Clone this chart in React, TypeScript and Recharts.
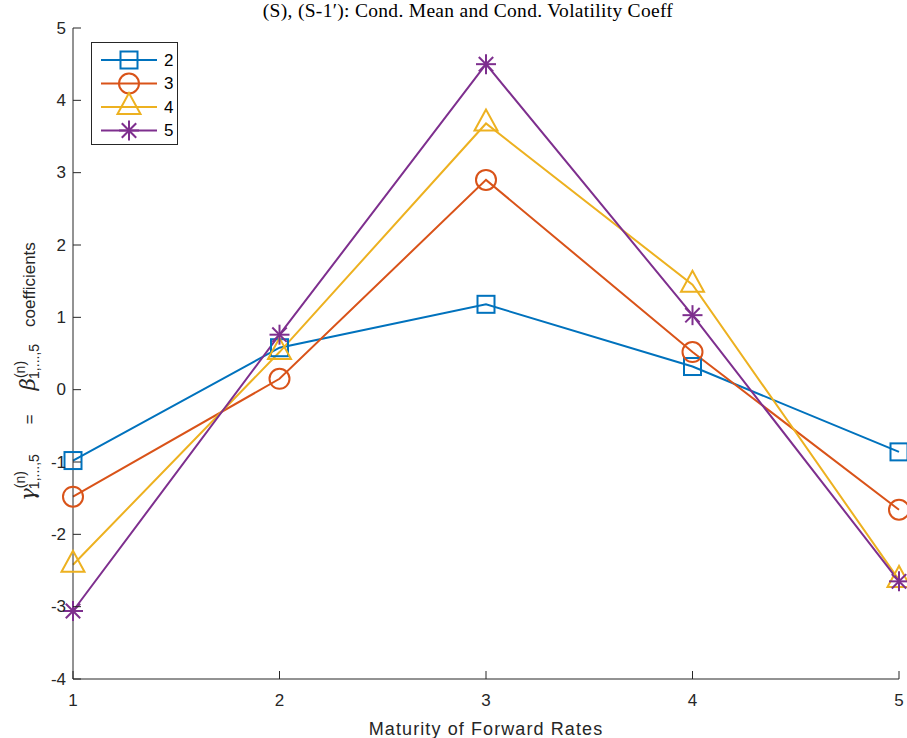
import React from 'react';
import { LineChart, Line, XAxis, YAxis } from 'recharts';

const maturities = [1, 2, 3, 4, 5];
const seriesNames = ['2', '3', '4', '5'];
const series2 = [-0.98, 0.58, 1.18, 0.32, -0.86];
const series3 = [-1.48, 0.15, 2.9, 0.52, -1.66];
const series4 = [-2.42, 0.52, 3.68, 1.45, -2.63];
const series5 = [-3.06, 0.76, 4.5, 1.03, -2.65];
const xTicks = [1, 2, 3, 4, 5];
const yTicks = [-4, -3, -2, -1, 0, 1, 2, 3, 4, 5];

const colors = ['#0072BD', '#D95319', '#EDB120', '#7E2F8E'];
const shapes = ['square', 'circle', 'triangle', 'star'];
const AXIS = '#262626';
const SANS = 'Liberation Sans, Arial, sans-serif';

const data = maturities.map((m, i) => ({
  x: m,
  s2: series2[i],
  s3: series3[i],
  s4: series4[i],
  s5: series5[i],
}));

const Marker = ({ cx, cy, shape, color }: any) => {
  if (cx == null || cy == null) return null;
  const common = { fill: 'none', stroke: color, strokeWidth: 2 };
  if (shape === 'square') {
    return <rect x={cx - 8.5} y={cy - 8.5} width={17} height={17} {...common} />;
  }
  if (shape === 'circle') {
    return <circle cx={cx} cy={cy} r={10} {...common} />;
  }
  if (shape === 'triangle') {
    const pts = `${cx},${cy - 14} ${cx - 11.5},${cy + 7} ${cx + 11.5},${cy + 7}`;
    return <polygon points={pts} {...common} strokeLinejoin="miter" />;
  }
  // asterisk
  const r = 10;
  const d = r * 0.72;
  return (
    <g stroke={color} strokeWidth={2}>
      <line x1={cx - r} y1={cy} x2={cx + r} y2={cy} />
      <line x1={cx} y1={cy - r} x2={cx} y2={cy + r} />
      <line x1={cx - d} y1={cy - d} x2={cx + d} y2={cy + d} />
      <line x1={cx - d} y1={cy + d} x2={cx + d} y2={cy - d} />
    </g>
  );
};

const LeftTick = ({ x, y, payload }: any) => (
  <g>
    <line x1={x} y1={y} x2={x + 8} y2={y} stroke={AXIS} strokeWidth={1} />
    <text x={x - 7} y={y} textAnchor="end" dominantBaseline="central"
      fontFamily={SANS} fontSize={17} fill={AXIS}>
      {payload.value}
    </text>
  </g>
);

const BottomTick = ({ x, y, payload }: any) => (
  <g>
    <line x1={x} y1={y} x2={x} y2={y - 8} stroke={AXIS} strokeWidth={1} />
    <text x={x} y={y + 27} textAnchor="middle"
      fontFamily={SANS} fontSize={17} fill={AXIS}>
      {payload.value}
    </text>
  </g>
);

const TopTick = ({ x, y }: any) => (
  <line x1={x} y1={y} x2={x} y2={y + 8} stroke={AXIS} strokeWidth={1} />
);

const RightTick = ({ x, y }: any) => (
  <line x1={x} y1={y} x2={x - 8} y2={y} stroke={AXIS} strokeWidth={1} />
);

const YLabel = ({ viewBox }: any) => {
  const cx = viewBox.x + 22;
  const cy = viewBox.y + viewBox.height / 2 + 18;
  return (
    <text x={cx} y={cy} transform={`rotate(-90, ${cx}, ${cy})`} textAnchor="middle"
      fontFamily={SANS} fontSize={17} fill={AXIS}>
      <tspan fontFamily="DejaVu Serif, serif" fontStyle="italic" fontSize={21}>γ</tspan>
      <tspan fontSize={14} dy={-10}>(n)</tspan>
      <tspan fontSize={14} dx={-18} dy={14}>1,...,5</tspan>
      <tspan dx={30} dy={-4}>=</tspan>
      <tspan dx={24} fontFamily="DejaVu Serif, serif" fontStyle="italic" fontSize={21}>β</tspan>
      <tspan fontSize={14} dy={-10}>(n)</tspan>
      <tspan fontSize={14} dx={-18} dy={14}>1,...,5</tspan>
      <tspan dx={17} dy={-4}>coefficients</tspan>
    </text>
  );
};

const XLabel = ({ viewBox }: any) => (
  <text x={viewBox.x + viewBox.width / 2} y={viewBox.y + 56} textAnchor="middle"
    fontFamily={SANS} fontSize={18} letterSpacing={1.1} fill={AXIS}>
    Maturity of Forward Rates
  </text>
);

const LegendBox = () => (
  <div style={{ position: 'absolute', left: 91, top: 42, width: 87, height: 103,
    border: `1px solid ${AXIS}`, background: '#fff', boxSizing: 'border-box' }}>
    <svg width={85} height={101}>
      {seriesNames.map((name, i) => {
        const y = 17 + i * 23.5;
        return (
          <g key={name}>
            <line x1={9} y1={y} x2={65} y2={y} stroke={colors[i]} strokeWidth={2} />
            <Marker cx={37} cy={y} shape={shapes[i]} color={colors[i]} />
            <text x={72} y={y} dominantBaseline="central"
              fontFamily={SANS} fontSize={17} fill="#000">
              {name}
            </text>
          </g>
        );
      })}
    </svg>
  </div>
);

export default function App() {
  const keys = ['s2', 's3', 's4', 's5'];
  return (
    <div style={{ position: 'absolute', left: 0, top: 0, width: 907, height: 738, background: '#fff' }}>
      <div style={{ position: 'absolute', left: 68, top: 0, width: 800, textAlign: 'center',
        fontFamily: 'Liberation Serif, serif', fontSize: 19.5, letterSpacing: 0.3,
        color: '#000', whiteSpace: 'nowrap' }}>
        (S), (S-1′): Cond. Mean and Cond. Volatility Coeff
      </div>
      <LineChart width={907} height={738} data={data}
        margin={{ top: 28, right: 8, left: 13, bottom: 29 }}>
        <XAxis dataKey="x" type="number" domain={[1, 5]} ticks={xTicks}
          stroke={AXIS} tickLine={false} tickSize={0} tickMargin={0} height={30}
          tick={<BottomTick />} label={{ content: (p: any) => <XLabel viewBox={p.viewBox} /> }} />
        <XAxis xAxisId="top" orientation="top" dataKey="x" type="number" domain={[1, 5]}
          ticks={xTicks} stroke={AXIS} tickLine={false} tickSize={0} tickMargin={0}
          height={0} tick={<TopTick />} />
        <YAxis type="number" domain={[-4, 5]} ticks={yTicks} stroke={AXIS}
          tickLine={false} tickSize={0} tickMargin={0} width={60} tick={<LeftTick />}
          label={{ content: (p: any) => <YLabel viewBox={p.viewBox} /> }} />
        <YAxis yAxisId="right" orientation="right" type="number" domain={[-4, 5]}
          ticks={yTicks} stroke={AXIS} tickLine={false} tickSize={0} tickMargin={0}
          width={0} tick={<RightTick />} />
        {keys.map((k, i) => (
          <Line key={k} dataKey={k} type="linear" stroke={colors[i]} strokeWidth={2}
            isAnimationActive={false}
            dot={(p: any) => <Marker key={`${k}-${p.index}`} cx={p.cx} cy={p.cy} shape={shapes[i]} color={colors[i]} />} />
        ))}
      </LineChart>
      <LegendBox />
    </div>
  );
}
